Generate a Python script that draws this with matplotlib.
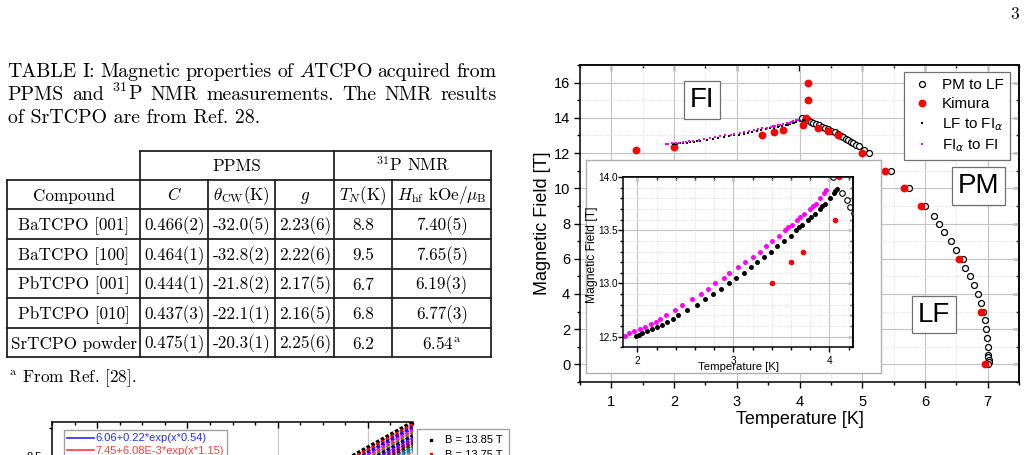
import matplotlib
matplotlib.use("Agg")
import matplotlib.pyplot as plt
from matplotlib.lines import Line2D
from matplotlib.font_manager import FontProperties
from matplotlib.ticker import MultipleLocator, FormatStrFormatter

plt.rcParams['mathtext.fontset'] = 'cm'
plt.rcParams['font.family'] = 'Liberation Sans'

# ---------------- Table I ----------------
compounds = ['BaTCPO [001]', 'BaTCPO [100]', 'PbTCPO [001]', 'PbTCPO [010]', 'SrTCPO powder']
curie_c = ['0.466(2)', '0.464(1)', '0.444(1)', '0.437(3)', '0.475(1)']
theta_cw = ['-32.0(5)', '-32.8(2)', '-21.8(2)', '-22.1(1)', '-20.3(1)']
g_fac = ['2.23(6)', '2.22(6)', '2.17(5)', '2.16(5)', '2.25(6)']
t_n = ['8.8', '9.5', '6.7', '6.8', '6.2']
h_hf = ['7.40(5)', '7.65(5)', '6.19(3)', '6.77(3)', r'6.54$^{\rm a}$']
col_heads = ['Compound', '$C$', r'$\theta_{\rm CW}$(K)', '$g$', '$T_N$(K)',
             r'$H_{\rm hf}$ kOe/$\mu_{\rm B}$']

# ---------------- phase diagram ----------------
pm_T = [4.04, 4.13, 4.18, 4.22, 4.26, 4.31, 4.36, 4.41, 4.46, 4.51, 4.56, 4.61, 4.66,
        4.70, 4.74, 4.78, 4.82, 4.86, 4.90, 4.95, 5.03, 5.11, 5.46, 5.75, 6.00, 6.14,
        6.22, 6.31, 6.42, 6.49, 6.60, 6.64, 6.72, 6.79, 6.84, 6.90, 6.92, 6.96, 6.98,
        6.99, 7.00, 7.01, 7.01, 7.02, 7.02, 7.01]
pm_B = [14.0, 13.85, 13.78, 13.72, 13.66, 13.58, 13.5, 13.42, 13.34, 13.25, 13.17, 13.08,
        12.98, 12.9, 12.82, 12.73, 12.64, 12.56, 12.45, 12.42, 12.2, 11.98, 11.0, 10.0,
        9.0, 8.45, 8.0, 7.5, 7.0, 6.5, 6.0, 5.5, 5.0, 4.5, 4.0, 3.5, 3.0, 2.5, 2.0, 1.5,
        1.0, 0.55, 0.4, 0.25, 0.15, 0.05]

kim_T = [1.40, 2.00, 3.40, 3.60, 3.73, 4.06, 4.10, 4.13, 4.13, 4.29, 4.45, 4.61, 5.00,
         5.37, 5.67, 5.93, 6.55, 6.89, 6.96]
kim_B = [12.2, 12.32, 13.0, 13.2, 13.3, 13.6, 14.0, 15.0, 16.0, 13.43, 13.23, 13.0, 12.0,
         11.0, 10.0, 9.0, 6.0, 3.0, 0.0]

lf_T = [1.99, 2.02, 2.045, 2.10, 2.15, 2.21, 2.26, 2.31, 2.37, 2.42, 2.52, 2.62, 2.70,
        2.79, 2.87, 2.96, 3.03, 3.11, 3.18, 3.25, 3.32, 3.39, 3.46, 3.53, 3.60, 3.65,
        3.68, 3.72, 3.78, 3.81, 3.85, 3.90, 3.92, 3.95, 4.01, 4.05, 4.06, 4.08]
lf_B = [12.51, 12.52, 12.53, 12.55, 12.57, 12.59, 12.61, 12.64, 12.67, 12.70, 12.75,
        12.80, 12.85, 12.90, 12.95, 13.00, 13.05, 13.10, 13.15, 13.20, 13.25, 13.30,
        13.35, 13.40, 13.45, 13.50, 13.53, 13.55, 13.60, 13.62, 13.65, 13.70, 13.73,
        13.75, 13.80, 13.85, 13.87, 13.89]

fa_T = [1.87, 1.91, 1.97, 2.03, 2.08, 2.14, 2.19, 2.24, 2.30, 2.39, 2.47, 2.57, 2.66,
        2.74, 2.81, 2.90, 2.96, 3.05, 3.12, 3.20, 3.28, 3.34, 3.40, 3.48, 3.54, 3.57,
        3.61, 3.66, 3.69, 3.74, 3.80, 3.83, 3.86, 3.90, 3.94, 3.97]
fa_B = [12.51, 12.53, 12.55, 12.57, 12.59, 12.62, 12.64, 12.67, 12.70, 12.75, 12.80,
        12.85, 12.90, 12.95, 13.00, 13.05, 13.10, 13.15, 13.20, 13.25, 13.30, 13.35,
        13.40, 13.45, 13.50, 13.53, 13.55, 13.60, 13.62, 13.65, 13.70, 13.73, 13.75,
        13.80, 13.85, 13.88]

# ---------------- cut-off figure at the bottom ----------------
stack_fields = [13.85, 13.75, 13.65, 13.55, 13.45, 13.35, 13.25, 13.15, 13.05, 12.95,
                12.85, 12.75]
stack_x = [15.0, 18.0]
stack_lo = [8.46, 8.435, 8.41, 8.385, 8.36, 8.335, 8.31, 8.285, 8.26, 8.235, 8.21, 8.185]
stack_hi = [8.80, 8.775, 8.75, 8.725, 8.70, 8.675, 8.65, 8.625, 8.60, 8.575, 8.55, 8.525]
stack_colors = ['#000000', '#ff0000', '#0000ff', '#ff00ff', '#808000', '#000080',
                '#8000ff', '#800080', '#800000', '#008080', '#0080ff', '#ff8000']
fit_labels = ['6.06+0.22*exp(x*0.54)', '7.45+6.08E-3*exp(x*1.15)']
fit_colors = ['#2a2aff', '#ff3a3a']

W, H = 1029, 455
fig = plt.figure(figsize=(W / 100, H / 100), dpi=100)


def px_axes(x0, y0, x1, y1):
    return fig.add_axes([x0 / W, 1 - y1 / H, (x1 - x0) / W, (y1 - y0) / H])


page = px_axes(0, 0, W, H)
page.set_xlim(0, W)
page.set_ylim(H, 0)
page.axis('off')
page.set_zorder(0)
rend = fig.canvas.get_renderer()
SER = 'cmr10'


def justify(line, y, x0, x1, size):
    words = line.split()
    arts = [page.text(0, y, w, family=SER, fontsize=size, va='baseline') for w in words]
    widths = [a.get_window_extent(rend).width for a in arts]
    gap = (x1 - x0 - sum(widths)) / (len(words) - 1)
    x = x0
    for a, w in zip(arts, widths):
        a.set_x(x)
        x += w + gap


cap_size = 14.3
justify('TABLE I: Magnetic properties of $A$TCPO acquired from', 77.3, 7.5, 496.5, cap_size)
justify('PPMS and $^{31}$P NMR measurements. The NMR results', 100, 7.5, 496.5, cap_size)
page.text(7.5, 123.3, 'of SrTCPO are from Ref. 28.', family=SER, fontsize=cap_size, va='baseline')
page.text(1015, 19, '3', family=SER, fontsize=12.5, ha='center', va='baseline')

# table rules
lw_t = 1.3
page.plot([140, 491.3], [151, 151], color='#222222', lw=lw_t)
for y in [180, 209.3, 239, 269, 298.3, 328.3, 357.3]:
    page.plot([7.3, 491.3], [y, y], color='#222222', lw=lw_t)
for x, ytop in [(7.3, 180), (140, 151), (208.3, 180), (275.3, 180), (334.3, 151),
                (392, 180), (491.3, 151)]:
    page.plot([x, x], [ytop, 357.3], color='#222222', lw=lw_t)

tsize = 12.3
col_x = [73.7, 174.2, 241.8, 304.8, 363.2, 441.7]
off = 5.8
page.text(237, 165.5 + off, 'PPMS', family=SER, fontsize=tsize, ha='center', va='baseline')
page.text(412.7, 165.5 + off, '$^{31}$P NMR', family=SER, fontsize=tsize, ha='center', va='baseline')
for x, s in zip(col_x, col_heads):
    page.text(x, 194.7 + off, s, family=SER, fontsize=tsize, ha='center', va='baseline')
row_y = [224.2, 254, 283.7, 313.3, 342.8]
for i, y in enumerate(row_y):
    for x, col in zip(col_x, [compounds, curie_c, theta_cw, g_fac, t_n, h_hf]):
        page.text(x, y + off, col[i], family=SER, fontsize=tsize, ha='center', va='baseline')
page.text(9, 381.7, r'$^{\rm a}$ From Ref. [28].', family=SER, fontsize=tsize, va='baseline')


def frame_ticks(a, xmaj, xmin, ymaj, ymin, lab, lmaj, lmin, pad_x, pad_y):
    a.xaxis.set_major_locator(MultipleLocator(xmaj))
    a.xaxis.set_minor_locator(MultipleLocator(xmin))
    a.yaxis.set_major_locator(MultipleLocator(ymaj))
    a.yaxis.set_minor_locator(MultipleLocator(ymin))
    a.tick_params(which='both', direction='out', labelsize=lab, width=1)
    a.tick_params(which='major', length=lmaj)
    a.tick_params(which='minor', length=lmin)
    a.tick_params(axis='x', pad=pad_x)
    a.tick_params(axis='y', pad=pad_y)
    for s in a.spines.values():
        s.set_linewidth(1.1)
    top = a.secondary_xaxis('top')
    top.xaxis.set_major_locator(MultipleLocator(xmaj))
    top.xaxis.set_minor_locator(MultipleLocator(xmin))
    top.tick_params(which='both', direction='in', labeltop=False, width=1)
    top.tick_params(which='major', length=lmaj)
    top.tick_params(which='minor', length=lmin)
    top.spines['top'].set_linewidth(1.1)
    right = a.secondary_yaxis('right')
    right.yaxis.set_major_locator(MultipleLocator(ymaj))
    right.yaxis.set_minor_locator(MultipleLocator(ymin))
    right.tick_params(which='both', direction='in', labelright=False, width=1)
    right.tick_params(which='major', length=lmaj)
    right.tick_params(which='minor', length=lmin)
    right.spines['right'].set_linewidth(1.1)
    a.grid(which='major', color='#c4c4c4', lw=0.8)
    a.grid(which='minor', color='#d4d4d4', lw=0.6, ls=':')
    a.set_axisbelow(True)


# main phase diagram
ax = px_axes(580, 65, 1019, 382)
ax.set_zorder(1)
ax.set_xlim(0.5, 7.5)
ax.set_ylim(-1, 17)
frame_ticks(ax, 1, 0.5, 2, 1, 10.5, 4.5, 2.5, 4.5, 2.6)
h_pm, = ax.plot(pm_T, pm_B, 'o', mfc='white', mec='black', ms=4.3, mew=0.9, label='PM to LF')
h_k, = ax.plot(kim_T, kim_B, 'o', color='red', ms=4.6, label='Kimura')
h_lf, = ax.plot(lf_T, lf_B, 's', color='black', ms=1.5, mew=0, label=r'LF to FI$_\alpha$')
h_fa, = ax.plot(fa_T, fa_B, 's', color='#ff00ff', ms=1.5, mew=0, label=r'FI$_\alpha$ to FI')
ax.set_xlabel('Temperature [K]', fontsize=13)
ax.set_ylabel('Magnetic Field [T]', fontsize=13)
ax.xaxis.set_label_coords(0.501, -0.092)
ax.yaxis.set_label_coords(-0.066, 0.5)
lp = FontProperties(family='Liberation Sans', size=11, math_fontfamily='dejavusans')
leg = ax.legend(handles=[h_pm, h_k, h_lf, h_fa], loc='upper right',
                bbox_to_anchor=(0.9795, 0.978), borderaxespad=0, prop=lp,
                fancybox=False, edgecolor='#707070', framealpha=1, numpoints=1,
                handlelength=1.6, handletextpad=0.5, labelspacing=0.32, borderpad=0.4)
leg.get_frame().set_linewidth(0.9)
box = dict(boxstyle='square,pad=0.2', fc='white', ec='#707070', lw=0.9)
ax.text((702 - 580) / 439, 1 - (100 - 65) / 317, 'FI', transform=ax.transAxes,
        fontsize=20, ha='center', va='center', bbox=box)
ax.text((978.5 - 580) / 439, 1 - (186 - 65) / 317, 'PM', transform=ax.transAxes,
        fontsize=20, ha='center', va='center', bbox=box)
ax.text((934 - 580) / 439, 1 - (314.5 - 65) / 317, 'LF', transform=ax.transAxes,
        fontsize=20, ha='center', va='center', bbox=box)

# inset frame and inset
frm = px_axes(586, 160, 881, 373)
frm.set_zorder(2)
frm.set_xticks([])
frm.set_yticks([])
for s in frm.spines.values():
    s.set_color('#b0b0b0')
    s.set_linewidth(1.0)

ins = px_axes(623.3, 177, 853.3, 347.3)
ins.set_zorder(3)
ins.set_xlim(1.854, 4.25)
ins.set_ylim(12.4, 14.0)
frame_ticks(ins, 1, 0.2, 0.5, 0.1, 7.2, 3.3, 2, 3.0, 0.8)
ins.yaxis.set_major_formatter(FormatStrFormatter('%.1f'))
ins.plot(pm_T, pm_B, 'o', mfc='white', mec='black', ms=4.0, mew=0.8)
ins.plot(kim_T, kim_B, 'o', color='red', ms=3.0)
ins.plot(lf_T, lf_B, 'o', color='black', ms=3.6, mew=0)
ins.plot(fa_T, fa_B, 'o', color='#ff00ff', ms=3.6, mew=0)
ins.set_xlabel('Temperature [K]', fontsize=8.2)
ins.set_ylabel('Magnetic Field [T]', fontsize=8.7)
ins.xaxis.set_label_coords(0.4987, -0.085)
ins.yaxis.set_label_coords(-0.109, 0.542)

# lower-left figure, cut by the page edge
bot = px_axes(52, 422, 413, 422 + 179.2)
bot.set_zorder(1)
bot.set_xlim(2, 18)
bot.set_ylim(7.2, 8.8)
bot.xaxis.set_major_locator(MultipleLocator(4))
bot.xaxis.set_minor_locator(MultipleLocator(1))
bot.yaxis.set_major_locator(MultipleLocator(0.5))
bot.yaxis.set_minor_locator(MultipleLocator(0.25))
bot.tick_params(axis='x', which='both', direction='in', top=True, bottom=False,
                labelbottom=False, width=1)
bot.tick_params(axis='x', which='major', length=4)
bot.tick_params(axis='x', which='minor', length=2.5)
bot.tick_params(axis='y', which='both', direction='out', labelsize=8, width=1)
bot.tick_params(axis='y', which='major', length=4)
bot.tick_params(axis='y', which='minor', length=2.5)
bot.spines['right'].set_visible(False)
for s in bot.spines.values():
    s.set_linewidth(1.1)
bot.grid(axis='x', which='major', color='#c8c8c8', lw=0.8)
bot.set_axisbelow(True)
stack_handles = []
for f, lo, hi, c in zip(stack_fields, stack_lo, stack_hi, stack_colors):
    bot.plot(stack_x, [lo, hi], color=c, lw=2.8, ls=(0, (0.9, 0.5)))
    stack_handles.append(Line2D([], [], marker='s', ms=1.8, ls='none', color=c,
                                label='B = %.2f T' % f))
fit_handles = [Line2D([], [], color=c, lw=1.2, label=l) for l, c in zip(fit_labels, fit_colors)]
leg1 = bot.legend(handles=fit_handles, loc='upper left', bbox_to_anchor=(0.0332, 0.955),
                  borderaxespad=0, fontsize=8, labelcolor='linecolor', fancybox=False,
                  edgecolor='#a0a0a0', framealpha=1, handlelength=2.4, handletextpad=0.15,
                  borderpad=0.3, labelspacing=0.2)
leg1.get_frame().set_linewidth(1)
bot.add_artist(leg1)
bot.legend(handles=stack_handles[:2], loc='upper left', bbox_to_anchor=(1.011, 0.959),
           borderaxespad=0, fontsize=8, fancybox=False, edgecolor='#a0a0a0', framealpha=1,
           handlelength=1.4, handletextpad=0.6, borderpad=0.55, labelspacing=0.4)

fig.savefig('out.png', dpi=100)
